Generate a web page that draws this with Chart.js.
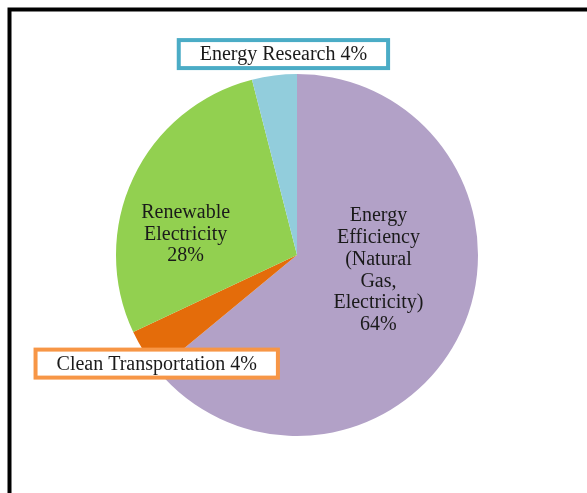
<!DOCTYPE html>
<html>
<head>
<meta charset="utf-8">
<script src="https://cdn.jsdelivr.net/npm/chart.js@4"></script>
<style>
html,body{margin:0;padding:0;background:#fff;}
#wrap{position:relative;width:587px;height:493px;}
</style>
</head>
<body>
<div id="wrap"><canvas id="c" width="587" height="493"></canvas></div>
<script>
const categories = ["Energy Efficiency (Natural Gas, Electricity)", "Clean Transportation", "Renewable Electricity", "Energy Research"];
const values = [64, 4, 28, 4];
const colors = ["#B2A1C7", "#E46C0A", "#92D050", "#92CDDC"];
const labelLines = [
  ["Energy", "Efficiency", "(Natural", "Gas,", "Electricity)", "64%"],
  ["Clean Transportation 4%"],
  ["Renewable", "Electricity", "28%"],
  ["Energy Research 4%"]
];
const boxColors = [null, "#F79646", null, "#4BACC6"];
// label anchors relative to pie radius
const anchors = [[0.45, 0.08], [-0.775, 0.60], [-0.615, -0.12], [-0.075, -1.11]];

const FONT = '20px "Liberation Serif", "Times New Roman", serif';

const framePlugin = {
  id: 'frame',
  beforeDraw(chart) {
    const ctx = chart.ctx;
    ctx.save();
    ctx.fillStyle = '#fff';
    ctx.fillRect(0, 0, chart.width, chart.height);
    ctx.strokeStyle = '#000';
    ctx.lineWidth = 4;
    ctx.beginPath();
    ctx.moveTo(9.5, chart.height + 10);
    ctx.lineTo(9.5, 9.5);
    ctx.lineTo(chart.width + 10, 9.5);
    ctx.stroke();
    ctx.restore();
  }
};

const labelPlugin = {
  id: 'labels',
  afterDraw(chart) {
    const ctx = chart.ctx;
    const meta = chart.getDatasetMeta(0);
    ctx.save();
    ctx.font = FONT;
    ctx.textAlign = 'center';
    ctx.textBaseline = 'middle';
    meta.data.forEach((arc, i) => {
      const r = arc.outerRadius;
      const cx = arc.x + anchors[i][0] * r;
      const cy = arc.y + anchors[i][1] * r;
      const lines = labelLines[i];
      const lh = 21.8;
      if (boxColors[i]) {
        const w = ctx.measureText(lines[0]).width;
        const bw = w + 42, bh = 28;
        ctx.fillStyle = '#fff';
        ctx.fillRect(cx - bw / 2, cy - bh / 2, bw, bh);
        ctx.strokeStyle = boxColors[i];
        ctx.lineWidth = 4;
        ctx.strokeRect(cx - bw / 2, cy - bh / 2, bw, bh);
      }
      ctx.fillStyle = '#1a1a1a';
      const top = cy - (lines.length - 1) * lh / 2;
      lines.forEach((t, k) => ctx.fillText(t, cx, top + k * lh + 1));
    });
    ctx.restore();
  }
};

new Chart(document.getElementById('c'), {
  type: 'pie',
  data: {
    labels: categories,
    datasets: [{
      data: values,
      backgroundColor: colors,
      borderWidth: 0
    }]
  },
  options: {
    responsive: false,
    animation: false,
    rotation: 0,
    layout: { padding: { top: 74, bottom: 57, left: 7, right: 0 } },
    plugins: {
      legend: { display: false },
      tooltip: { enabled: false },
      title: { display: false }
    }
  },
  plugins: [framePlugin, labelPlugin]
});
</script>
</body>
</html>
